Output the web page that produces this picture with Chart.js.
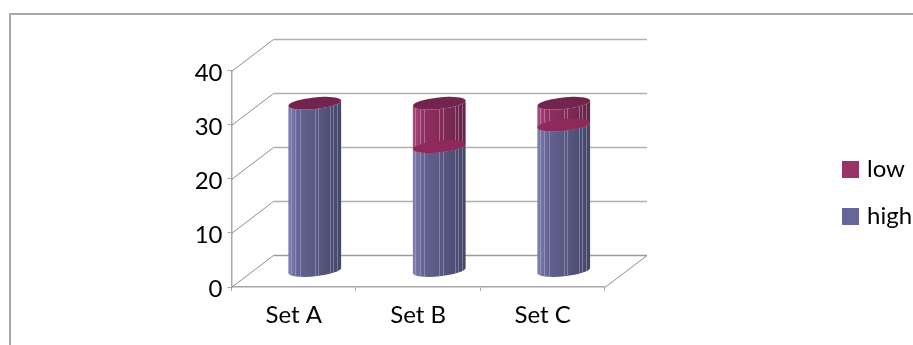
<!DOCTYPE html>
<html>
<head>
<meta charset="utf-8">
<style>
html,body{margin:0;padding:0;background:#fff}
canvas{display:block}
</style>
<script src="https://cdn.jsdelivr.net/npm/chart.js@4/dist/chart.umd.min.js"></script>
</head>
<body>
<div style="width:913px;height:345px"><canvas id="c" width="913" height="345"></canvas></div>
<script>
const categories = ['Set A', 'Set B', 'Set C'];
const highValues = [31, 23, 27];
const lowValues = [0, 8, 4];

// Oblique projection of the floor: how far the back wall sits from the front plane.
const DEPTH_X = 42, DEPTH_Y = -32;
const STRIPES = [.05, .13, .22, .5, .57, .79, .85, .92];
const PALETTE = {
  high: {legend: '#666699', stops: ['#7f7eb0', '#62628f', '#575781', '#464668'], stripe: 'rgba(190,190,225,.42)'},
  low: {legend: '#993366', stops: ['#a84a7c', '#8f2d60', '#832b57', '#602549'], stripe: 'rgba(235,180,210,.42)', cap: '#72244f', seam: '#8e2a5b'}
};

function sideGradient(ctx, left, right, stops) {
  const g = ctx.createLinearGradient(left, 0, right, 0);
  g.addColorStop(0, stops[0]);
  g.addColorStop(.22, stops[1]);
  g.addColorStop(.55, stops[2]);
  g.addColorStop(1, stops[3]);
  return g;
}

// One cylinder segment, from the ellipse at its base up to the ellipse at its top.
function drawSegment(ctx, cx, yTop, yBase, rx, colors) {
  const ry = 5.8, tilt = -0.105;
  const ex = rx * Math.cos(tilt), ey = rx * Math.sin(tilt);
  ctx.beginPath();
  ctx.ellipse(cx, yBase, rx, ry, tilt, 0, Math.PI);
  ctx.lineTo(cx - ex, yTop - ey);
  ctx.ellipse(cx, yTop, rx, ry, tilt, Math.PI, 0, true);
  ctx.closePath();
  ctx.fillStyle = sideGradient(ctx, cx - rx, cx + rx, colors.stops);
  ctx.fill();
  ctx.save();
  ctx.clip();
  ctx.strokeStyle = colors.stripe;
  ctx.lineWidth = 1;
  STRIPES.forEach(f => {
    const x = Math.round(cx - rx + f * 2 * rx) + .5;
    ctx.beginPath();
    ctx.moveTo(x, yTop - 10);
    ctx.lineTo(x, yBase + 10);
    ctx.stroke();
  });
  ctx.restore();
}

function fillEllipse(ctx, cx, cy, rx, color) {
  ctx.beginPath();
  ctx.ellipse(cx, cy, rx, 5.8, -0.105, 0, Math.PI * 2);
  ctx.fillStyle = color;
  ctx.fill();
}

// Square legend swatch, wider than the slot the legend reserves for it,
// which keeps the label close to the swatch.
function swatch(color) {
  const c = document.createElement('canvas');
  c.width = c.height = 17;
  const g = c.getContext('2d');
  g.fillStyle = color;
  g.fillRect(0, 0, 17, 17);
  return c;
}

const frame3d = {
  id: 'frame3d',
  afterLayout(chart) {
    // The legend stands well clear of the plot, near the right edge.
    const lg = chart.legend, shift = 823 - lg.left;
    lg.left += shift;
    lg.right += shift;
    lg.top = 100;
    lg.bottom = 286;
    // Value labels sit slightly below their ticks.
    const y = chart.scales.y;
    if (!y.labelsNudged) {
      const drawLabels = y.drawLabels;
      y.drawLabels = function (area) {
        this.ctx.save();
        this.ctx.translate(0, 2.5);
        drawLabels.call(this, area);
        this.ctx.restore();
      };
      y.labelsNudged = true;
    }
  },
  beforeDraw(chart) {
    const ctx = chart.ctx;
    ctx.save();
    ctx.fillStyle = '#fff';
    ctx.fillRect(0, 0, chart.width, chart.height);
    ctx.strokeStyle = '#a8a8a8';
    ctx.lineWidth = 2;
    ctx.beginPath();
    ctx.moveTo(10, 345);
    ctx.lineTo(10, 14);
    ctx.lineTo(913, 14);
    ctx.stroke();
    ctx.restore();
  },
  beforeDatasetsDraw(chart) {
    const ctx = chart.ctx, y = chart.scales.y, a = chart.chartArea;
    ctx.save();
    // Back wall gridlines and the diagonals joining them to the value axis.
    y.ticks.forEach(t => {
      const py = Math.round(y.getPixelForValue(t.value)) + .5;
      ctx.strokeStyle = '#8f8f8f';
      ctx.lineWidth = 1;
      ctx.beginPath();
      ctx.moveTo(a.left, py);
      ctx.lineTo(a.left + DEPTH_X, py + DEPTH_Y);
      ctx.stroke();
      ctx.strokeStyle = t.value === 0 ? '#9a9a9a' : '#b0b0b0';
      ctx.lineWidth = 1.5;
      ctx.beginPath();
      ctx.moveTo(a.left + DEPTH_X, py + DEPTH_Y);
      ctx.lineTo(a.right + DEPTH_X, py + DEPTH_Y);
      ctx.stroke();
    });
    // Right edge of the floor.
    const py0 = Math.round(y.getPixelForValue(0)) + .5;
    ctx.strokeStyle = '#8f8f8f';
    ctx.lineWidth = 1;
    ctx.beginPath();
    ctx.moveTo(a.right, py0);
    ctx.lineTo(a.right + DEPTH_X, py0 + DEPTH_Y);
    ctx.stroke();

    // Cylinders, stacked from the bottom up, placed from the bar elements' own geometry.
    const high = chart.getDatasetMeta(0).data;
    const low = chart.getDatasetMeta(1).data;
    categories.forEach((_, i) => {
      const cx = high[i].x + DEPTH_X / 2;
      const rx = high[i].width / 2;
      const off = DEPTH_Y / 2;
      drawSegment(ctx, cx, high[i].y + off, high[i].base + off, rx, PALETTE.high);
      if (lowValues[i] > 0) {
        drawSegment(ctx, cx, low[i].y + off, low[i].base + off, rx, PALETTE.low);
        fillEllipse(ctx, cx, low[i].base + off, rx, PALETTE.low.seam);
      }
      fillEllipse(ctx, cx, low[i].y + off, rx, PALETTE.low.cap);
    });
    ctx.restore();
    return false;
  }
};

const font = {family: 'Lato', size: 24};
const chart = new Chart(document.getElementById('c'), {
  type: 'bar',
  plugins: [frame3d],
  data: {
    labels: categories,
    datasets: [
      {label: 'high', data: highValues, backgroundColor: PALETTE.high.legend, borderWidth: 0},
      {label: 'low', data: lowValues, backgroundColor: PALETTE.low.legend, borderWidth: 0}
    ]
  },
  options: {
    responsive: false,
    animation: false,
    devicePixelRatio: 1,
    layout: {padding: {left: 0, top: 70.5, right: 209, bottom: 0}},
    datasets: {bar: {categoryPercentage: 1, barPercentage: 0.426}},
    plugins: {
      title: {display: false},
      tooltip: {enabled: false},
      legend: {
        position: 'right',
        reverse: true,
        labels: {
          boxWidth: 9, boxHeight: 17, padding: 23, color: '#000', font,
          usePointStyle: true, pointStyleWidth: 9,
          generateLabels(c) {
            return Chart.defaults.plugins.legend.labels.generateLabels(c).map(item => {
              item.pointStyle = swatch(item.fillStyle);
              return item;
            });
          }
        }
      }
    },
    scales: {
      x: {
        stacked: true,
        afterFit(s) { s.height = 58; },
        grid: {offset: true, drawOnChartArea: false, drawTicks: true, tickLength: 4, color: '#a8a8a8'},
        border: {color: '#a8a8a8', width: 1.5},
        ticks: {color: '#000', font, padding: 10, maxRotation: 0}
      },
      y: {
        stacked: true,
        min: 0,
        max: 40,
        afterFit(s) { s.width = 231.5; },
        grid: {drawOnChartArea: false, drawTicks: true, tickLength: 4, color: '#a8a8a8'},
        border: {color: '#a8a8a8', width: 1.5},
        ticks: {color: '#000', font, stepSize: 10, padding: 5}
      }
    }
  }
});
</script>
</body>
</html>
